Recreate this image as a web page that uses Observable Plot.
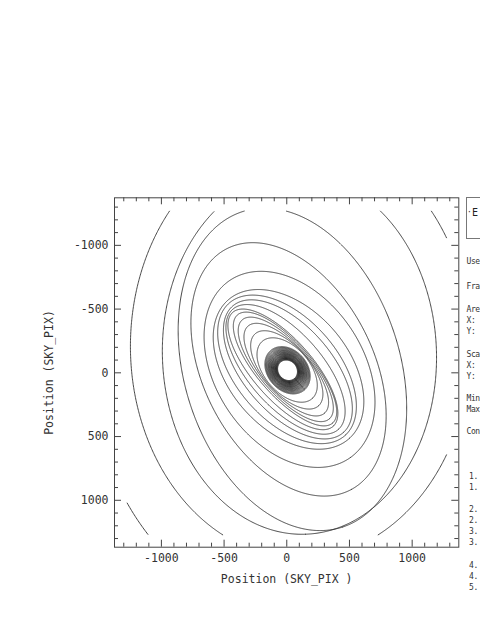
<!DOCTYPE html>
<html>
<head>
<meta charset="utf-8">
<script src="https://cdn.jsdelivr.net/npm/d3@7"></script>
<script src="https://cdn.jsdelivr.net/npm/@observablehq/plot@0.6"></script>
<style>
  html, body { margin: 0; padding: 0; background: #fff; overflow: hidden; width: 480px; height: 621px; }
  #chart { position: absolute; left: 0; top: 0; }
  .key { position: absolute; font-family: "DejaVu Sans Mono", monospace; font-size: 8px; letter-spacing: -0.4px; color: #333; white-space: nowrap; line-height: 10px; }
  #keybox { position: absolute; left: 466px; top: 197px; width: 30px; height: 42px; border: 1px solid #777; box-sizing: border-box; }
</style>
</head>
<body>
<div id="chart"></div>
<div id="keybox"></div>
<script>
// ---- Axis domains and ticks (SKY_PIX) ----
const xDomain = [-1374, 1372];
const yDomain = [-1373, 1368];
const majorTicks = [-1000, -500, 0, 500, 1000];
const minorTicks = [-1300, -1200, -1100, -900, -800, -700, -600, -400, -300, -200, -100,
                    100, 200, 300, 400, 600, 700, 800, 900, 1100, 1200, 1300];
// extent of the data array (contours stop here)
const dataX = [-1277, 1274];
const dataY = [-1269, 1275];

// ---- Contour ellipses (data units) ----
// outer (A-C), middle (D-K), elongated inner group (L-P)
const outerCx    = [109, 109, 101, 45, 14, 22, 14, 2, 9, -10, -31, -14, -8, -4, 0, 3];
const outerCy    = [-176, -208, -145, -27, -27, -27, -27, -27, -27, -27, -27, -30, -27, -25, -23, -22];
const outerA     = [2078, 1663, 1412, 1300, 1067, 845, 727, 695, 664, 632, 600, 569, 521, 458, 379, 300];
const outerB     = [1691, 1356, 1093, 860, 675, 585, 474, 403, 348, 292, 237, 213, 201, 190, 184, 178];
const outerAngle = [90, 90, 88, 72, 62, 55, 48, 48, 48, 48, 48, 48, 48, 48, 48, 48];
// dense core around the central peak (all centred at 6, -20, tilted 48°)
const coreCenter = [6, -20];
const coreAngle  = 48;
const coreA = [205, 198, 190, 182, 175, 169, 163, 157, 152, 146, 141, 137, 132,
               127, 123, 119, 115, 111, 107, 104, 101, 98, 95, 92, 88, 85];
const coreB = [158, 153, 149, 144, 139, 135, 131, 127, 123, 119, 116, 113, 110,
               107, 103, 100, 97, 94, 91, 88, 86, 84, 81, 79, 77, 74];

// ---- Key panel text (clipped at the window edge) ----
const keyWords = ["Use", "Fra", "Are", "X:", "Y:", "Sca", "X:", "Y:", "Min", "Max", "Con"];
const keyWordY = [262, 287, 310, 321, 332, 355, 366, 377, 399, 410, 432];
const keyNums  = ["1.", "1.", "2.", "2.", "3.", "3.", "4.", "4.", "5."];
const keyNumY  = [477, 488, 510, 521, 532, 543, 566, 577, 588];

// ---- assemble the contour table ----
const contours = [
  ...outerCx.map((cx, i) => ({cx, cy: outerCy[i], a: outerA[i], b: outerB[i], ang: outerAngle[i]})),
  ...coreA.map((a, i) => ({cx: coreCenter[0], cy: coreCenter[1], a, b: coreB[i], ang: coreAngle}))
];

// ---- build contour polylines, clipped to the data extent ----
const pts = [];
let seg = 0;
const N = 900;
for (const c of contours) {
  const th = c.ang * Math.PI / 180;
  let inside = false;
  for (let k = 0; k <= N; k++) {
    const t = k / N * 2 * Math.PI;
    const u = c.a * Math.cos(t), v = c.b * Math.sin(t);
    const x = c.cx + u * Math.cos(th) - v * Math.sin(th);
    const y = c.cy + u * Math.sin(th) + v * Math.cos(th);
    const ok = x >= dataX[0] && x <= dataX[1] && y >= dataY[0] && y <= dataY[1];
    if (ok) {
      if (!inside) { seg++; inside = true; }
      pts.push({x, y, id: seg});
    } else inside = false;
  }
}

const W = 480, H = 621;
const mL = 114, mR = 21.7, mT = 197.3, mB = 74.3;
const fw = W - mL - mR, fh = H - mT - mB;
const ink = "#444";
const fmt = d => String(d);

const chart = Plot.plot({
  width: W, height: H,
  marginLeft: mL, marginRight: mR, marginTop: mT, marginBottom: mB,
  x: {domain: xDomain},
  y: {domain: yDomain, reverse: true},
  style: {fontFamily: "'DejaVu Sans Mono', monospace", fontSize: "11.5px", color: "#333", background: "#fff", overflow: "visible"},
  marks: [
    Plot.line(pts, {x: "x", y: "y", z: "id", stroke: "#333", strokeWidth: 0.9}),
    Plot.frame({stroke: ink, strokeWidth: 1}),
    // inward ticks on all four sides
    Plot.tickX(minorTicks, {x: d => d, insetTop: fh - 4, stroke: ink}),
    Plot.tickX(majorTicks, {x: d => d, insetTop: fh - 7, stroke: ink}),
    Plot.tickX(minorTicks, {x: d => d, insetBottom: fh - 4, stroke: ink}),
    Plot.tickX(majorTicks, {x: d => d, insetBottom: fh - 7, stroke: ink}),
    Plot.tickY(minorTicks, {y: d => d, insetRight: fw - 4, stroke: ink}),
    Plot.tickY(majorTicks, {y: d => d, insetRight: fw - 7, stroke: ink}),
    Plot.tickY(minorTicks, {y: d => d, insetLeft: fw - 4, stroke: ink}),
    Plot.tickY(majorTicks, {y: d => d, insetLeft: fw - 7, stroke: ink}),
    Plot.axisX(majorTicks, {anchor: "bottom", tickSize: 0, tickPadding: 7, tickFormat: fmt,
      label: "Position (SKY_PIX )", labelAnchor: "center", labelOffset: 36, labelArrow: "none"}),
    Plot.axisY(majorTicks, {anchor: "left", tickSize: 0, tickPadding: 6, tickFormat: fmt,
      label: "Position (SKY_PIX)", labelAnchor: "center", labelOffset: 70, labelArrow: "none"})
  ]
});
document.getElementById("chart").appendChild(chart);

// key panel
const addKey = (txt, x, y) => {
  const el = document.createElement("div");
  el.className = "key";
  el.textContent = txt;
  el.style.left = x + "px";
  el.style.top = (y - 5) + "px";
  document.body.appendChild(el);
  return el;
};
keyWords.forEach((t, i) => addKey(t, 466.5, keyWordY[i]));
keyNums.forEach((t, i) => addKey(t, 469, keyNumY[i]));
const dot = addKey("·", 467, 213);
const e = addKey("E", 472, 213);
e.style.fontSize = "10px"; e.style.color = "#222"; e.style.letterSpacing = "0";
</script>
</body>
</html>
